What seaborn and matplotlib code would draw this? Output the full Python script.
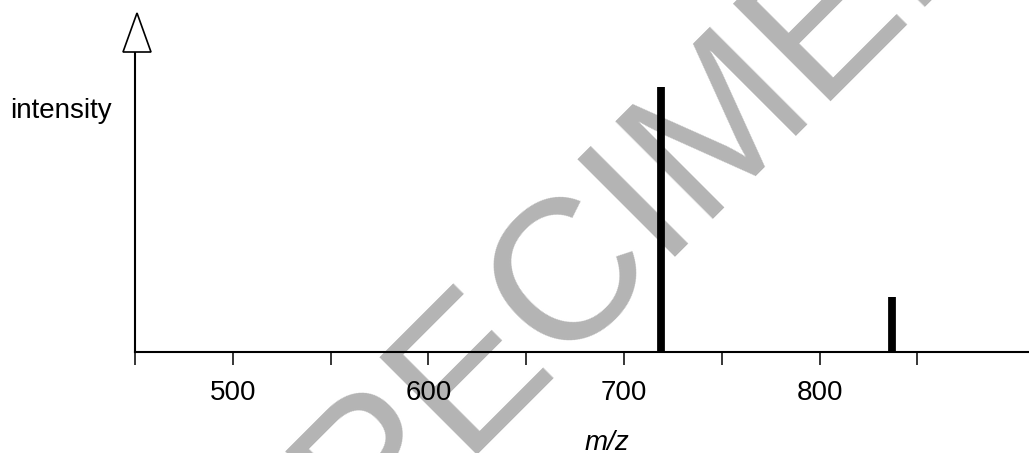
import matplotlib
matplotlib.use("Agg")
from matplotlib import pyplot as plt
from matplotlib.patches import Polygon
import seaborn as sns
import pandas as pd

# peaks
mz = [719, 837]
intensity = [88.3, 18.3]

tick_values = [450, 500, 550, 600, 650, 700, 750, 800, 850]
labelled_ticks = [500, 600, 700, 800]

x_range = (450, 907)
y_range = (0, 100)

sns.set_theme(context="paper", style="white")
plt.rcParams['font.family'] = ['Liberation Sans', 'DejaVu Sans']

W, H = 1029, 453
fig = plt.figure(figsize=(W / 100, H / 100), dpi=100)
fig.patch.set_facecolor("white")

# axes box in pixels: x 135..1029, y 52..352 (from top)
ax = fig.add_axes([135 / W, 1 - 352 / H, (W - 135) / W, 300 / H])
ax.patch.set_alpha(0)

data = pd.DataFrame({"mz": mz, "intensity": intensity})

# sticks (a little below the baseline, like the original drawing)
ax.vlines(data["mz"], -2.6, data["intensity"], colors="black", linewidth=5.6, zorder=3)

ax.set_xlim(*x_range)
ax.set_ylim(*y_range)

ax.set_xticks(tick_values)
ax.set_xticklabels([str(t) if t in labelled_ticks else "" for t in tick_values], fontsize=20)
ax.set_yticks([])
ax.tick_params(axis="x", direction="out", length=9, width=1.1, color="black", pad=11,
               bottom=True, labelcolor="black")

sns.despine(ax=ax, top=True, right=True)
for side in ["left", "bottom"]:
    ax.spines[side].set_color("black")
    ax.spines[side].set_linewidth(1.5)
    ax.spines[side].set_zorder(2)

# open arrow head on top of the intensity axis
head = Polygon([(123 / W, 1 - 52 / H), (151 / W, 1 - 52 / H), (137 / W, 1 - 13 / H)],
               closed=True, facecolor="white", edgecolor="black", linewidth=1.2,
               transform=fig.transFigure, clip_on=False)
fig.patches.append(head)

fig.text(10 / W, 1 - 118 / H, "intensity", fontsize=20, va="baseline", ha="left", color="black")
fig.text(585 / W, 1 - 450 / H, "m/z", fontsize=20, style="italic", va="baseline", ha="left",
         color="black")

# watermark
fig.text(645 / W, 1 - 278 / H, "SPECIMEN", fontsize=144, color="#b4b4b4", rotation=45,
         rotation_mode="anchor", ha="center", va="baseline", zorder=-5)

plt.savefig("out.png", dpi=100)
